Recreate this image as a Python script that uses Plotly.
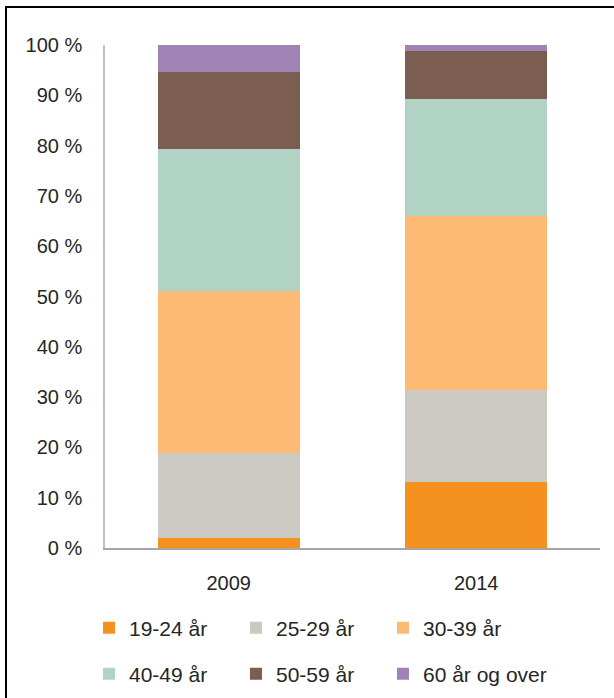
import plotly.graph_objects as go

years = ["2009", "2014"]
age_groups = ["19-24 år", "25-29 år", "30-39 år", "40-49 år", "50-59 år", "60 år og over"]
colors = ["#F5911F", "#CCC8C2", "#FDBA74", "#B0D3C6", "#7B5D51", "#A082B4"]

# share of each age group (percent), 2009 and 2014
share_19_24 = [2.0, 13.1]
share_25_29 = [16.8, 18.4]
share_30_39 = [32.2, 34.5]
share_40_49 = [28.3, 23.3]
share_50_59 = [15.3, 9.5]
share_60_plus = [5.4, 1.2]

series = [share_19_24, share_25_29, share_30_39, share_40_49, share_50_59, share_60_plus]

y_ticks = list(range(0, 101, 10))
y_labels = [f"{v} %" for v in y_ticks]

font = dict(family="Liberation Sans, Arial, sans-serif", size=20, color="#262626")
legend_font = dict(family="Liberation Sans, Arial, sans-serif", size=21, color="#262626")

# legend grid: 3 columns x 2 rows, one legend box per entry
legend_cols = [-0.0323, 0.2646, 0.5616]
legend_rows = [-0.159, -0.2505]

fig = go.Figure()
legend_layout = {}
for i, (name, vals) in enumerate(zip(age_groups, series)):
    key = "legend" if i == 0 else f"legend{i + 1}"
    fig.add_trace(
        go.Bar(
            x=years,
            y=vals,
            name=name,
            showlegend=True,
            marker=dict(color=colors[i], line=dict(width=0)),
            legend=key,
        )
    )
    legend_layout[key] = dict(
        x=legend_cols[i % 3],
        y=legend_rows[i // 3],
        xanchor="left",
        yanchor="middle",
        orientation="h",
        font=legend_font,
        bgcolor="rgba(0,0,0,0)",
        itemclick=False,
    )

fig.update_layout(
    width=614,
    height=698,
    showlegend=True,
    margin=dict(l=105, r=14, t=45, b=150, autoexpand=False),
    barmode="stack",
    bargap=0.426,
    plot_bgcolor="white",
    paper_bgcolor="white",
    font=font,
    xaxis=dict(
        showline=True,
        linecolor="#A6A6A6",
        linewidth=1.5,
        showgrid=False,
        ticks="",
        ticklabelstandoff=16,
        tickfont=font,
    ),
    yaxis=dict(
        range=[0, 100],
        tickvals=y_ticks,
        ticktext=y_labels,
        showline=True,
        linecolor="#BFBFBF",
        linewidth=1.5,
        showgrid=False,
        zeroline=False,
        ticks="",
        ticklabelstandoff=17,
        tickfont=font,
    ),
    shapes=[
        dict(
            type="rect",
            xref="paper",
            yref="paper",
            x0=-0.2,
            x1=1.05,
            y0=-0.35,
            y1=1.0755,
            line=dict(color="black", width=2),
            fillcolor="rgba(0,0,0,0)",
        )
    ],
    **legend_layout,
)

fig.write_html(
    "out.html",
    config={"displayModeBar": False},
    post_script="document.body.style.margin='0';",
)
